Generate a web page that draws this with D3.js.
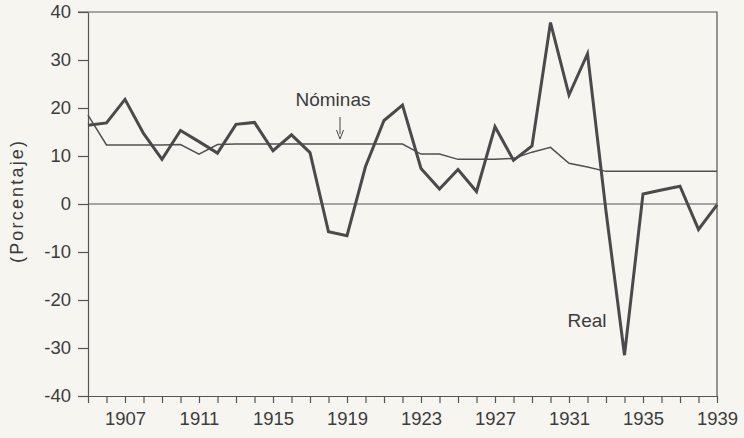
<!DOCTYPE html>
<html>
  <head>
    <meta charset="utf-8" />
    <title>Real y Nóminas</title>
    <style>
      body { margin: 0; background: #f6f5f0; }
      svg { display: block; font-family: "Liberation Sans", Arial, sans-serif; }
      .axis text { fill: #3c3c3c; font-size: 18.5px; }
      .axis path, .axis line { stroke: #555; stroke-width: 1.2; }
    </style>
  </head>
  <body>
  <div id="container"></div>
  <script src="https://cdn.jsdelivr.net/npm/d3@7"></script>
  <script type="text/javascript">

    // years shown on the x axis
    var years = d3.range(1905, 1940);
    var yearLabels = [1907, 1911, 1915, 1919, 1923, 1927, 1931, 1935, 1939];
    var yTicks = [-40, -30, -20, -10, 0, 10, 20, 30, 40];

    // series (percent)
    var real = [16.4, 16.9, 21.8, 14.7, 9.3, 15.3, 13.0, 10.6, 16.6, 17.0,
                11.1, 14.4, 10.7, -5.8, -6.6, 7.8, 17.4, 20.6, 7.4, 3.1,
                7.2, 2.6, 16.1, 9.1, 12.1, 37.8, 22.7, 31.3, -1.5, -31.5,
                2.1, 2.9, 3.7, -5.3, -0.2];
    var nominas = [18.5, 12.3, 12.3, 12.3, 12.3, 12.4, 10.4, 12.4, 12.5, 12.5,
                   12.5, 12.5, 12.5, 12.5, 12.5, 12.5, 12.5, 12.5, 10.4, 10.4,
                   9.3, 9.3, 9.3, 9.5, 10.8, 11.8, 8.5, 7.7, 6.8, 6.8,
                   6.8, 6.8, 6.8, 6.8, 6.8];

    var width = 744;
    var height = 438;
    // plot box (window.top is reserved, so prefixed names)
    var pLeft = 88, pRight = 717, pTop = 12, pBottom = 396;

    var svg = d3.select('#container').append('svg')
      .attr('width', width).attr('height', height);

    var x = d3.scaleLinear().domain([1905, 1939]).range([pLeft, pRight]);
    var y = d3.scaleLinear().domain([-40, 40]).range([pBottom, pTop]);

    // frame: top and right side
    svg.append('path')
      .attr('d', 'M' + (pLeft - 10) + ',' + pTop + 'H' + pRight + 'V' + pBottom)
      .attr('fill', 'none').attr('stroke', '#555').attr('stroke-width', 1.2);

    // zero line
    svg.append('line')
      .attr('x1', pLeft).attr('x2', pRight)
      .attr('y1', y(0)).attr('y2', y(0))
      .attr('stroke', '#555').attr('stroke-width', 1.2);

    // plain hyphen for negatives, like the printed chart
    var yAxis = d3.axisLeft(y).tickValues(yTicks).tickSize(10).tickSizeOuter(0).tickPadding(7)
      .tickFormat(function(d){ return String(d); });
    svg.append('g').attr('class', 'axis')
      .attr('transform', 'translate(' + pLeft + ',0)')
      .call(yAxis);

    var xAxis = d3.axisBottom(x).tickValues(years).tickSize(7).tickSizeOuter(0).tickPadding(9)
      .tickFormat(function(d){ return yearLabels.indexOf(d) >= 0 ? d : ''; });
    svg.append('g').attr('class', 'axis')
      .attr('transform', 'translate(0,' + pBottom + ')')
      .call(xAxis);

    var line = d3.line()
      .x(function(d, i){ return x(years[i]); })
      .y(function(d){ return y(d); });

    svg.append('path').datum(nominas)
      .attr('d', line).attr('fill', 'none')
      .attr('stroke', '#505050').attr('stroke-width', 1.5);

    svg.append('path').datum(real)
      .attr('d', line).attr('fill', 'none')
      .attr('stroke', '#4a4a4a').attr('stroke-width', 3)
      .attr('stroke-linejoin', 'miter');

    // labels
    svg.append('text')
      .attr('x', 333).attr('y', 106)
      .attr('text-anchor', 'middle')
      .attr('font-size', '19px').attr('fill', '#3c3c3c')
      .text('Nóminas');

    // arrow under Nóminas
    svg.append('line')
      .attr('x1', 340).attr('x2', 340).attr('y1', 117).attr('y2', 134)
      .attr('stroke', '#444').attr('stroke-width', 1);
    svg.append('path')
      .attr('d', 'M336.5,130L340,139L343.5,130')
      .attr('fill', 'none').attr('stroke', '#444').attr('stroke-width', 1);

    svg.append('text')
      .attr('x', 587).attr('y', 327)
      .attr('text-anchor', 'middle')
      .attr('font-size', '19px').attr('fill', '#3c3c3c')
      .text('Real');

    svg.append('text')
      .attr('transform', 'translate(23,202) rotate(-90)')
      .attr('text-anchor', 'middle')
      .attr('font-size', '18px').attr('fill', '#3c3c3c')
      .attr('textLength', 122).attr('lengthAdjust', 'spacing')
      .text('(Porcentaje)');

  </script>
  </body>
</html>
